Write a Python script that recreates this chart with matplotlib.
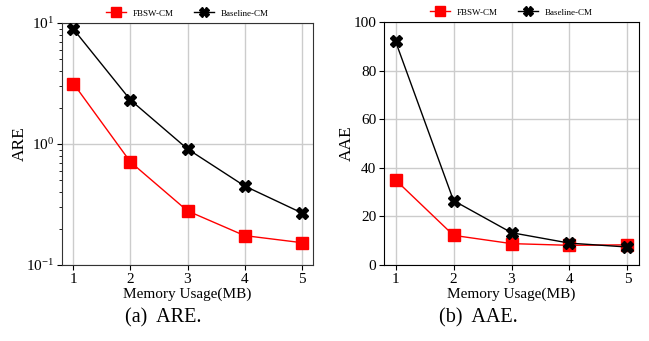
import matplotlib
matplotlib.use("Agg")
import matplotlib.pyplot as plt

plt.rcParams['font.family'] = ['Liberation Serif', 'DejaVu Serif']
plt.rcParams['mathtext.fontset'] = 'stix'

memory = [1, 2, 3, 4, 5]
are_fbsw = [3.16, 0.71, 0.28, 0.175, 0.153]
are_base = [8.9, 2.31, 0.91, 0.45, 0.27]
aae_fbsw = [35.0, 12.2, 8.8, 8.1, 8.3]
aae_base = [92.0, 26.5, 13.3, 9.0, 7.4]
labels = ["FBSW-CM", "Baseline-CM"]
captions = ["(a)  ARE.", "(b)  AAE."]

fig = plt.figure(figsize=(6.49, 3.41), dpi=100)
W, H = 649, 341
ax1 = fig.add_axes([62 / W, 1 - 265 / H, 251 / W, 242 / H])
ax2 = fig.add_axes([384 / W, 1 - 265 / H, 255 / W, 243 / H])

for ax, f, b, ylab in [(ax1, are_fbsw, are_base, "ARE"), (ax2, aae_fbsw, aae_base, "AAE")]:
    ax.plot(memory, f, color='red', marker='s', markersize=9, linewidth=1, label=labels[0], zorder=3)
    ax.plot(memory, b, color='black', marker='X', markersize=9, linewidth=1, label=labels[1], zorder=3)
    ax.set_xlim(0.8, 5.2)
    ax.set_xticks(memory)
    ax.grid(True, color='#cccccc', linewidth=1)
    ax.set_axisbelow(True)
    ax.set_xlabel("Memory Usage(MB)", fontsize=11, labelpad=1)
    ax.set_ylabel(ylab, fontsize=12.5)
    ax.tick_params(labelsize=11, pad=2)
    ax.legend(loc='lower center', bbox_to_anchor=(0.5, 1.0), ncol=2, frameon=False,
              fontsize=6.5, handlelength=2.2, handletextpad=0.8, columnspacing=2.2,
              markerscale=0.75, borderaxespad=0.2)

ax1.set_yscale('log')
ax1.set_ylim(0.1, 10)
for s in ax1.spines.values():
    s.set_color('#333333')
ax2.set_ylim(0, 100)
ax2.set_yticks([0, 20, 40, 60, 80, 100])
ax1.yaxis.set_label_coords(-0.135, 0.5)
ax2.yaxis.set_label_coords(-0.114, 0.5)

fig.text(163 / W, 1 - 318 / H, captions[0], ha='center', va='center', fontsize=14.5)
fig.text(478 / W, 1 - 318 / H, captions[1], ha='center', va='center', fontsize=14.5)

fig.savefig("out.png", dpi=100)
